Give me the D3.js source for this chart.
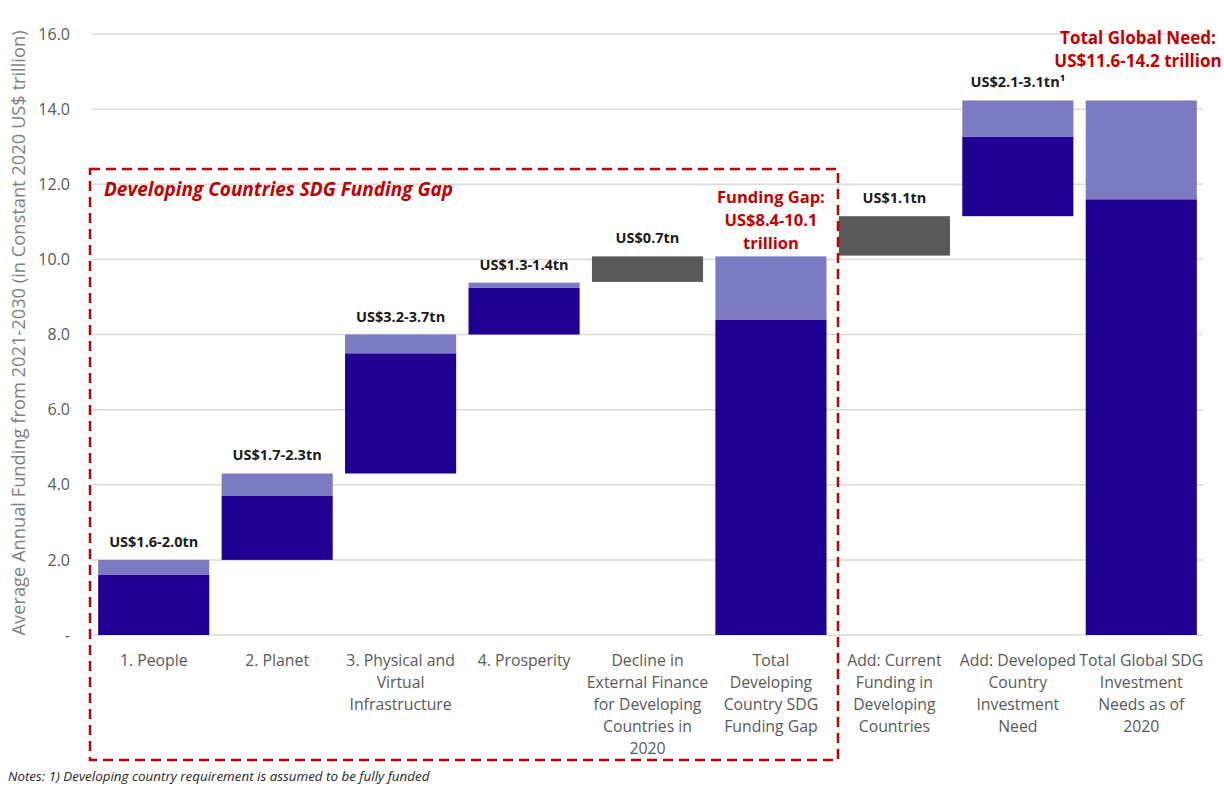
<!DOCTYPE html>
<html>
<head>
<meta charset="utf-8">
<script src="https://cdn.jsdelivr.net/npm/d3@7"></script>
<style>
  body { margin: 0; background: #fff; }
  text { font-family: "Open Sans", Lato, sans-serif; }
</style>
</head>
<body>
<div id="chart"></div>
<script>
// categories (multi-line labels)
var categories = [
  ["1. People"],
  ["2. Planet"],
  ["3. Physical and", "Virtual", "Infrastructure"],
  ["4. Prosperity"],
  ["Decline in", "External Finance", "for Developing", "Countries in", "2020"],
  ["Total", "Developing", "Country SDG", "Funding Gap"],
  ["Add: Current", "Funding in", "Developing", "Countries"],
  ["Add: Developed", "Country", "Investment", "Need"],
  ["Total Global SDG", "Investment", "Needs as of", "2020"]
];
// bar pieces: bottom, top of dark (low estimate), top of bar (high estimate)
var barBase = [0, 2.0, 4.3, 8.0, 9.4, 0, 10.1, 11.15, 0];
var barLow  = [1.6, 3.7, 7.5, 9.25, null, 8.4, null, 13.27, 11.6];
var barHigh = [2.0, 4.3, 8.0, 9.38, 10.08, 10.08, 11.15, 14.23, 14.23];
var barKind = ["range", "range", "range", "range", "grey", "range", "grey", "range", "range"];
var valueLabels = ["US$1.6-2.0tn", "US$1.7-2.3tn", "US$3.2-3.7tn", "US$1.3-1.4tn", "US$0.7tn", null, "US$1.1tn", "US$2.1-3.1tn\u00b9", null];
var yTicks = [0, 2, 4, 6, 8, 10, 12, 14, 16];

var width = 1224, height = 789;
var svg = d3.select("#chart").append("svg")
    .attr("width", width)
    .attr("height", height);

var x = d3.scaleBand()
    .domain(d3.range(categories.length))
    .range([92, 1203])
    .paddingInner(0.1)
    .paddingOuter(0.05);

var y = d3.scaleLinear()
    .domain([0, 16])
    .range([635, 34]);

// gridlines
svg.append("g")
  .selectAll("line")
  .data(yTicks)
  .enter().append("line")
    .attr("x1", 92).attr("x2", 1203)
    .attr("y1", function(d) { return y(d); })
    .attr("y2", function(d) { return y(d); })
    .attr("stroke", "#d9d9d9")
    .attr("stroke-width", 1.5);

// y axis labels
var yAxis = d3.axisLeft(y)
    .tickValues(yTicks)
    .tickSize(0)
    .tickPadding(22)
    .tickFormat(function(d) { return d === 0 ? "-" : d3.format(".1f")(d); });
var ya = svg.append("g").attr("transform", "translate(92,0)").call(yAxis);
ya.select(".domain").remove();
ya.selectAll("text")
    .attr("font-family", "'Open Sans', sans-serif")
    .attr("font-size", 16)
    .attr("fill", "#595959");

svg.append("text")
    .attr("transform", "translate(25,333) rotate(-90)")
    .attr("text-anchor", "middle")
    .attr("font-size", 18.3)
    .attr("fill", "#7f7f7f")
    .text("Average Annual Funding from 2021-2030 (in Constant 2020 US$ trillion)");

// bars
var bars = svg.append("g");
categories.forEach(function(c, i) {
  if (barKind[i] === "grey") {
    bars.append("rect")
      .attr("x", x(i)).attr("width", x.bandwidth())
      .attr("y", y(barHigh[i]))
      .attr("height", y(barBase[i]) - y(barHigh[i]))
      .attr("fill", "#595959");
  } else {
    bars.append("rect")
      .attr("x", x(i)).attr("width", x.bandwidth())
      .attr("y", y(barLow[i]))
      .attr("height", y(barBase[i]) - y(barLow[i]))
      .attr("fill", "#1f0091");
    bars.append("rect")
      .attr("x", x(i)).attr("width", x.bandwidth())
      .attr("y", y(barHigh[i]))
      .attr("height", y(barLow[i]) - y(barHigh[i]))
      .attr("fill", "#7d7ac4");
  }
});

// value labels
svg.append("g")
  .selectAll("text")
  .data(valueLabels.map(function(d, i) { return {t: d, i: i}; }).filter(function(d) { return d.t; }))
  .enter().append("text")
    .attr("x", function(d) { return x(d.i) + x.bandwidth() / 2; })
    .attr("y", function(d) { return y(barHigh[d.i]) - 13; })
    .attr("text-anchor", "middle")
    .attr("font-size", 14.5)
    .attr("font-weight", "bold")
    .attr("fill", "#1a1a1a")
    .text(function(d) { return d.t; });

// category labels
var cat = svg.append("g");
categories.forEach(function(lines, i) {
  var t = cat.append("text")
    .attr("text-anchor", "middle")
    .attr("font-size", 15.8)
    .attr("fill", "#595959");
  lines.forEach(function(l, k) {
    t.append("tspan")
      .attr("x", x(i) + x.bandwidth() / 2)
      .attr("y", 666 + k * 22)
      .text(l);
  });
});

// dashed box for developing countries
svg.append("rect")
    .attr("x", 90).attr("y", 169)
    .attr("width", 748).attr("height", 591)
    .attr("fill", "none")
    .attr("stroke", "#c00000")
    .attr("stroke-width", 2.5)
    .attr("stroke-dasharray", "10,6");

svg.append("text")
    .attr("x", 104).attr("y", 196)
    .attr("font-size", 19)
    .attr("font-weight", "bold")
    .attr("font-style", "italic")
    .attr("fill", "#c00000")
    .text("Developing Countries SDG Funding Gap");

// red annotations
var gap = svg.append("text")
    .attr("text-anchor", "middle")
    .attr("font-size", 16.5)
    .attr("font-weight", "bold")
    .attr("fill", "#c00000");
["Funding Gap:", "US$8.4-10.1", "trillion"].forEach(function(l, k) {
  gap.append("tspan").attr("x", x(5) + x.bandwidth() / 2).attr("y", 203 + k * 23).text(l);
});

var tot = svg.append("text")
    .attr("text-anchor", "middle")
    .attr("font-size", 17)
    .attr("font-weight", "bold")
    .attr("fill", "#c00000");
["Total Global Need:", "US$11.6-14.2 trillion"].forEach(function(l, k) {
  tot.append("tspan").attr("x", 1138).attr("y", 44 + k * 23).text(l);
});

// notes
svg.append("text")
    .attr("x", 8).attr("y", 781)
    .attr("font-size", 13.4)
    .attr("font-style", "italic")
    .attr("fill", "#262626")
    .text("Notes: 1) Developing country requirement is assumed to be fully funded");
</script>
</body>
</html>
